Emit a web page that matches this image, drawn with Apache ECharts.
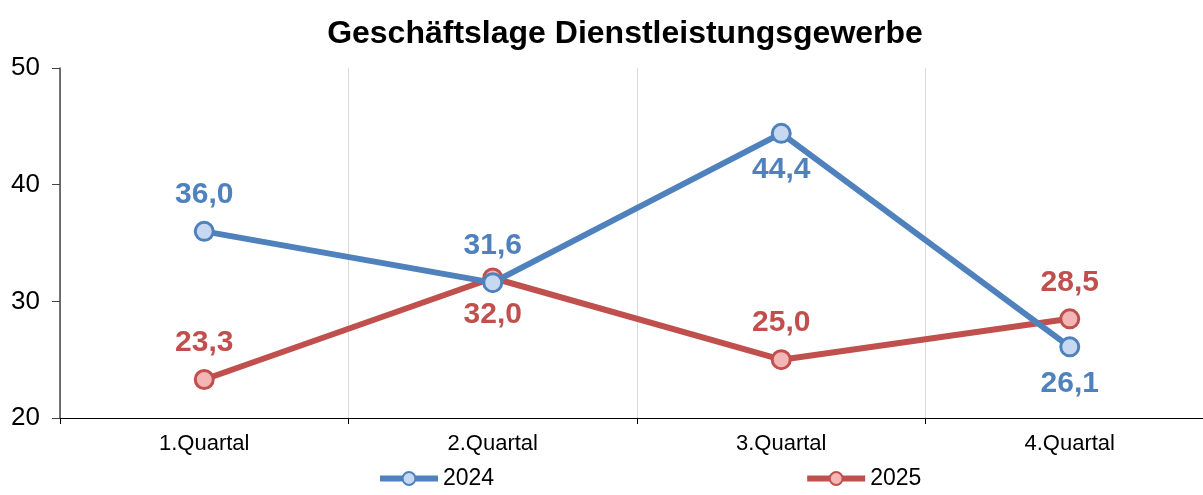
<!DOCTYPE html>
<html>
<head>
<meta charset="utf-8">
<script src="https://cdn.jsdelivr.net/npm/echarts@6/dist/echarts.min.js"></script>
<style>
  html, body { margin: 0; padding: 0; background: #fff; overflow: hidden; }
  #chart { width: 1250px; height: 495px; }
</style>
</head>
<body>
<div id="chart"></div>
<script>
  // Daten
  var categories = ['1.Quartal', '2.Quartal', '3.Quartal', '4.Quartal'];
  var values2024 = [36.0, 31.6, 44.4, 26.1];
  var values2025 = [23.3, 32.0, 25.0, 28.5];
  // Lage der Beschriftungen je Punkt
  var pos2024 = ['top', 'top', 'bottom', 'bottom'];
  var pos2025 = ['top', 'bottom', 'top', 'top'];

  var font = 'Liberation Sans, Arial, sans-serif';

  function buildData(values, pos) {
    return values.map(function (v, i) {
      return { value: v, label: { position: pos[i] } };
    });
  }

  function makeSeries(name, values, pos, line, fill) {
    return {
      name: name,
      type: 'line',
      data: buildData(values, pos),
      symbol: 'circle',
      symbolSize: 18,
      lineStyle: { color: line, width: 6 },
      itemStyle: { color: fill, borderColor: line, borderWidth: 3 },
      label: {
        show: true,
        distance: 11,
        color: line,
        fontFamily: font,
        fontWeight: 'bold',
        fontSize: 30,
        formatter: function (p) { return p.value.toFixed(1).replace('.', ','); }
      },
      emphasis: { disabled: true },
      z: name === '2024' ? 3 : 2
    };
  }

  var myChart = echarts.init(document.getElementById('chart'));
  myChart.setOption({
    animation: false,
    title: {
      text: 'Geschäftslage Dienstleistungsgewerbe',
      left: 'center',
      top: 13,
      textStyle: { fontFamily: font, fontWeight: 'bold', fontSize: 32, color: '#000' }
    },
    legend: {
      bottom: 0,
      left: 372,
      itemGap: 310,
      itemWidth: 58,
      itemHeight: 16,
      lineStyle: { width: 6 },
      textStyle: { fontFamily: font, fontSize: 23, color: '#000' },
      data: ['2024', '2025']
    },
    grid: { left: 60, right: 36, top: 68, bottom: 77 },
    xAxis: {
      type: 'category',
      data: categories,
      boundaryGap: true,
      axisLine: { lineStyle: { color: '#000', width: 1 } },
      axisTick: { show: true, length: 6, lineStyle: { color: '#000' } },
      axisLabel: { fontFamily: font, fontSize: 22, color: '#000', margin: 15 },
      splitLine: { show: true, lineStyle: { color: '#d9d9d9', width: 1 } }
    },
    yAxis: {
      type: 'value',
      min: 20,
      max: 50,
      interval: 10,
      axisLine: { show: true, lineStyle: { color: '#444', width: 1.5 } },
      axisTick: { show: true, length: 8, lineStyle: { color: '#444' } },
      axisLabel: { fontFamily: font, fontSize: 26, color: '#000', margin: 20 },
      splitLine: { show: false }
    },
    series: [
      makeSeries('2024', values2024, pos2024, '#4F81BD', '#C6D9F1'),
      makeSeries('2025', values2025, pos2025, '#C0504D', '#F4B6B5')
    ]
  });
</script>
</body>
</html>
